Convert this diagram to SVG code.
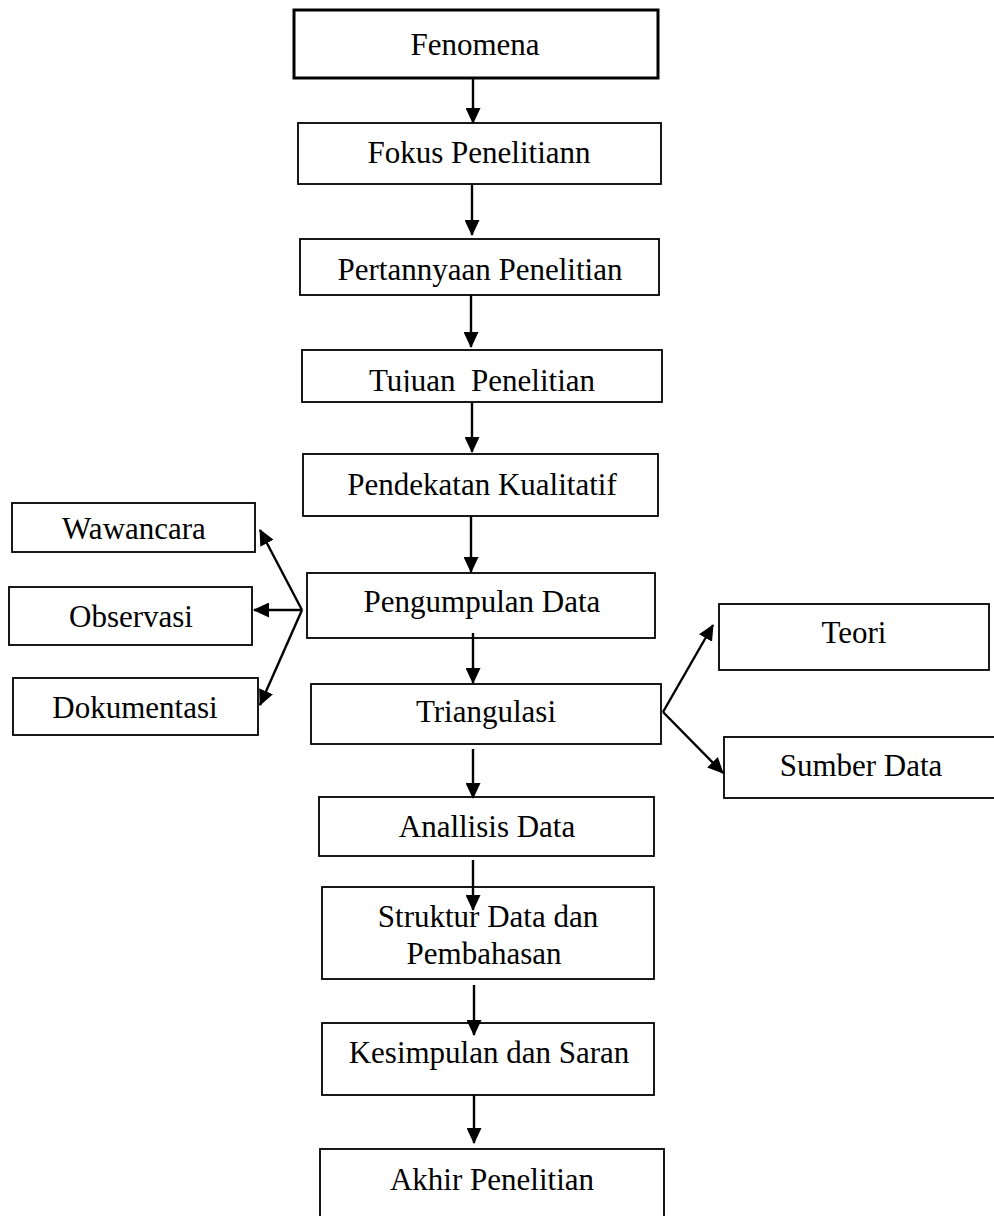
<svg xmlns="http://www.w3.org/2000/svg" width="994" height="1216" viewBox="0 0 994 1216">
<style>
.box{fill:#fff;stroke:#000;stroke-width:1.8}
.thick{stroke-width:3}
.lbl{font-family:"Liberation Serif","Times New Roman",serif;font-size:31px;fill:#000;text-anchor:middle;white-space:pre}
.con{stroke:#000;stroke-width:2.4;fill:none;marker-end:url(#ah)}
</style>
<defs>
<marker id="ah" viewBox="0 0 16 15" refX="15" refY="7.5" markerWidth="16" markerHeight="15" markerUnits="userSpaceOnUse" orient="auto">
<path d="M0,0 L16,7.5 L0,15 z" fill="#000"/>
</marker>
<clipPath id="tujclip"><rect x="302" y="350" width="360" height="42"/></clipPath>
</defs>
<rect width="994" height="1216" fill="#fff"/>
<g id="nodes">
<g id="fenomena"><rect class="box thick" x="294" y="10" width="364" height="68"/><text class="lbl" x="475" y="55">Fenomena</text></g>
<g id="fokus"><rect class="box" x="298" y="123" width="363" height="61"/><text class="lbl" x="479" y="163">Fokus Penelitiann</text></g>
<g id="pertanyaan"><rect class="box" x="300" y="239" width="359" height="56"/><text class="lbl" x="480" y="280">Pertannyaan Penelitian</text></g>
<g id="tujuan"><rect class="box" x="302" y="350" width="360" height="52"/><text class="lbl" x="482" y="391" clip-path="url(#tujclip)" xml:space="preserve">Tujuan  Penelitian</text></g>
<g id="pendekatan"><rect class="box" x="303" y="454" width="355" height="62"/><text class="lbl" x="482" y="495">Pendekatan Kualitatif</text></g>
<g id="pengumpulan"><rect class="box" x="307" y="573" width="348" height="65"/><text class="lbl" x="482" y="612">Pengumpulan Data</text></g>
<g id="triangulasi"><rect class="box" x="311" y="684" width="350" height="60"/><text class="lbl" x="486" y="722">Triangulasi</text></g>
<g id="analisis"><rect class="box" x="319" y="797" width="335" height="59"/><text class="lbl" x="487" y="837">Anallisis Data</text></g>
<g id="struktur"><rect class="box" x="322" y="887" width="332" height="92"/><text class="lbl" x="488" y="927">Struktur Data dan</text><text class="lbl" x="484" y="964">Pembahasan</text></g>
<g id="kesimpulan"><rect class="box" x="322" y="1023" width="332" height="72"/><text class="lbl" x="489" y="1063">Kesimpulan dan Saran</text></g>
<g id="akhir"><rect class="box" x="320" y="1149" width="344" height="100"/><text class="lbl" x="492" y="1190">Akhir Penelitian</text></g>
<g id="wawancara"><rect class="box" x="12" y="503" width="243" height="49"/><text class="lbl" x="134" y="539">Wawancara</text></g>
<g id="observasi"><rect class="box" x="9" y="587" width="243" height="58"/><text class="lbl" x="131" y="627">Observasi</text></g>
<g id="dokumentasi"><rect class="box" x="13" y="678" width="245" height="57"/><text class="lbl" x="135" y="718">Dokumentasi</text></g>
<g id="teori"><rect class="box" x="719" y="604" width="270" height="66"/><text class="lbl" x="854" y="643">Teori</text></g>
<g id="sumber"><rect class="box" x="724" y="737" width="290" height="61"/><text class="lbl" x="861" y="776">Sumber Data</text></g>
</g>
<g id="connectors">
<line class="con" x1="473" y1="78" x2="473" y2="123"/>
<line class="con" x1="472" y1="184" x2="472" y2="235"/>
<line class="con" x1="471" y1="295" x2="471" y2="347"/>
<line class="con" x1="472" y1="402" x2="472" y2="452"/>
<line class="con" x1="471" y1="516" x2="471" y2="572"/>
<line class="con" x1="473" y1="633" x2="473" y2="683"/>
<line class="con" x1="473" y1="749" x2="473" y2="798"/>
<line class="con" x1="473" y1="860" x2="473" y2="910"/>
<line class="con" x1="474" y1="985" x2="474" y2="1035"/>
<line class="con" x1="474" y1="1095" x2="474" y2="1143"/>
<line class="con" x1="302" y1="610" x2="260" y2="530"/>
<line class="con" x1="302" y1="610" x2="254" y2="610"/>
<line class="con" x1="302" y1="610" x2="260" y2="705"/>
<line class="con" x1="663" y1="712" x2="713" y2="625"/>
<line class="con" x1="663" y1="712" x2="723" y2="773"/>
</g>
</svg>
